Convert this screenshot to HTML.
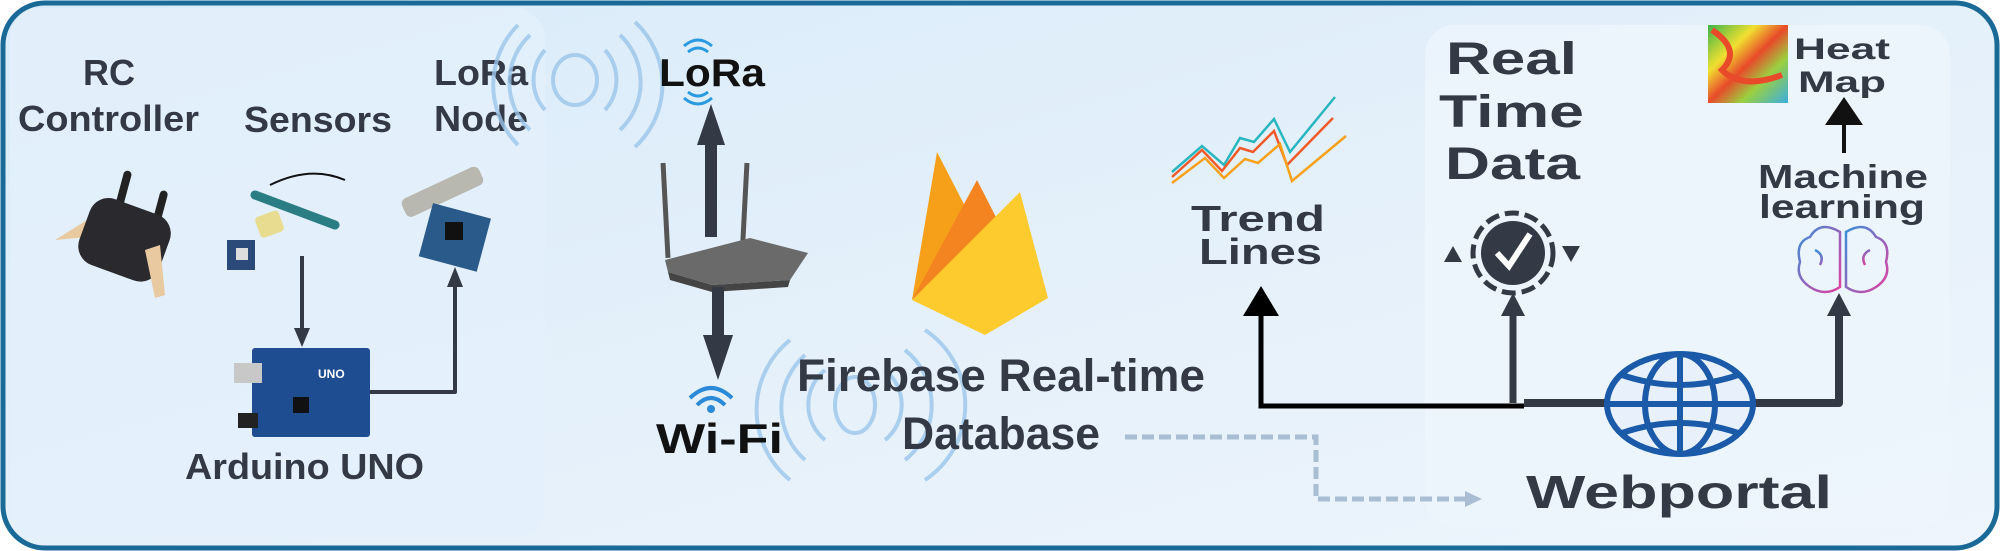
<!DOCTYPE html>
<html><head><meta charset="utf-8"><style>
html,body{margin:0;padding:0;width:2000px;height:551px;overflow:hidden;background:#fff}
svg{display:block}
text{font-family:"Liberation Sans","DejaVu Sans",sans-serif;fill:#333945;font-weight:bold}
</style></head><body>
<svg width="2000" height="551" viewBox="0 0 2000 551" xmlns="http://www.w3.org/2000/svg">
<defs>
<linearGradient id="bg" x1="0" y1="0" x2="1" y2="1">
<stop offset="0" stop-color="#d9ebf9"/><stop offset="0.5" stop-color="#e4f0fa"/><stop offset="1" stop-color="#eef5fc"/></linearGradient>
<linearGradient id="heat" x1="0" y1="0" x2="1" y2="1">
<stop offset="0" stop-color="#3cb44b"/><stop offset="0.3" stop-color="#f0e030"/><stop offset="0.5" stop-color="#e84a2a"/><stop offset="0.7" stop-color="#9bd040"/><stop offset="1" stop-color="#3aaee0"/></linearGradient>
<linearGradient id="brain" x1="0" y1="0" x2="1" y2="1"><stop offset="0" stop-color="#3a8fd8"/><stop offset="1" stop-color="#e040a0"/></linearGradient>
</defs>
<rect x="3" y="3" width="1994" height="545" rx="42" fill="url(#bg)" stroke="#1a6a98" stroke-width="5"/>
<rect x="10" y="8" width="535" height="530" rx="30" fill="#e3f0fb" opacity="0.8"/>
<rect x="1425" y="25" width="525" height="502" rx="30" fill="#eef5fc" opacity="0.8"/>

<!-- left labels -->
<g font-size="36" lengthAdjust="spacingAndGlyphs">
<text x="83" y="85" textLength="52" lengthAdjust="spacingAndGlyphs">RC</text>
<text x="18" y="131" textLength="181" lengthAdjust="spacingAndGlyphs">Controller</text>
<text x="244" y="132" textLength="148" lengthAdjust="spacingAndGlyphs">Sensors</text>
<text x="434" y="85" textLength="94" lengthAdjust="spacingAndGlyphs">LoRa</text>
<text x="434" y="131" textLength="94" lengthAdjust="spacingAndGlyphs">Node</text>
<text x="185" y="479" textLength="239" lengthAdjust="spacingAndGlyphs">Arduino UNO</text>
</g>

<!-- RC controller -->
<g>
<path d="M55 240 L95 215 L110 235 Z" fill="#e8c9a0"/>
<rect x="118" y="170" width="8" height="50" rx="4" fill="#222" transform="rotate(15 122 195)"/>
<rect x="155" y="190" width="8" height="45" rx="4" fill="#222" transform="rotate(15 159 212)"/>
<rect x="82" y="205" width="85" height="70" rx="20" fill="#2a2a2e" transform="rotate(20 125 240)"/>
<path d="M145 250 L160 245 L165 295 L155 298 Z" fill="#e8c9a0"/>
</g>
<!-- sensors -->
<g>
<path d="M255 195 L335 225" stroke="#2a7d82" stroke-width="9" stroke-linecap="round"/>
<path d="M270 185 q40 -20 75 -5" stroke="#111" stroke-width="2" fill="none"/>
<rect x="257" y="213" width="25" height="22" rx="4" fill="#e8dc90" transform="rotate(-20 270 224)"/>
<rect x="227" y="240" width="28" height="30" fill="#2b4a7a"/>
<rect x="236" y="248" width="12" height="12" fill="#ddd"/>
</g>
<!-- lora node -->
<g>
<rect x="400" y="182" width="85" height="20" rx="6" fill="#b8b8b0" transform="rotate(-25 442 192)"/>
<rect x="425" y="210" width="60" height="55" fill="#2a5a8a" transform="rotate(15 455 237)"/>
<rect x="445" y="222" width="18" height="18" fill="#111"/>
</g>
<!-- arduino -->
<g>
<rect x="252" y="348" width="118" height="89" rx="3" fill="#1e4d92"/>
<rect x="234" y="363" width="28" height="20" fill="#c8c8c8"/>
<rect x="238" y="413" width="20" height="15" fill="#222"/>
<rect x="293" y="397" width="16" height="16" fill="#111"/>
<text x="318" y="378" font-size="12" style="fill:#fff">UNO</text>
</g>
<!-- left arrows -->
<g stroke="#333945" stroke-width="4" fill="none">
<line x1="302" y1="256" x2="302" y2="330"/>
<polyline points="370,392 455,392 455,285" stroke-linejoin="round"/>
</g>
<polygon points="294,328 310,328 302,347" fill="#333945"/>
<polygon points="447,287 463,287 455,267" fill="#333945"/>

<!-- signal arcs top -->
<g fill="none" stroke="#9cc6ea" stroke-width="4" opacity="0.8">
<ellipse cx="575" cy="80" rx="22" ry="25"/>
<path d="M545 50 a45 45 0 0 0 0 60"/><path d="M605 50 a45 45 0 0 1 0 60"/>
<path d="M530 35 a65 65 0 0 0 0 95"/><path d="M620 35 a65 65 0 0 1 0 95"/>
<path d="M518 25 a85 85 0 0 0 0 120"/><path d="M635 22 a85 85 0 0 1 0 125"/>
</g>
<!-- wifi-side arcs -->
<g fill="none" stroke="#9cc6ea" stroke-width="4" opacity="0.8">
<ellipse cx="855" cy="405" rx="20" ry="28"/>
<path d="M825 370 a45 45 0 0 0 0 70"/><path d="M885 370 a45 45 0 0 1 0 70"/>
<path d="M805 355 a70 70 0 0 0 0 105"/><path d="M905 350 a70 70 0 0 1 0 110"/>
<path d="M790 340 a90 90 0 0 0 0 140"/><path d="M925 330 a90 90 0 0 1 0 150"/>
</g>

<!-- LoRa logo -->
<g fill="none" stroke="#2a9ae0" stroke-width="3">
<path d="M688 52 q10 -8 20 0"/><path d="M684 46 q14 -12 28 0"/>
<path d="M688 92 q10 8 20 0"/><path d="M684 98 q14 12 28 0"/>
</g>
<text x="659" y="86" font-size="39" textLength="106" lengthAdjust="spacingAndGlyphs" style="fill:#111">LoRa</text>

<!-- router -->
<g>
<rect x="663" y="163" width="5" height="95" fill="#555" transform="rotate(-3 665 210)"/>
<rect x="742" y="163" width="5" height="95" fill="#555" transform="rotate(3 745 210)"/>
<path d="M665 260 L750 238 L808 253 L790 280 L712 285 L668 272 Z" fill="#6a6a6a"/>
<path d="M668 272 L712 285 L790 280 L788 287 L712 292 L670 280 Z" fill="#444"/>
</g>
<rect x="705" y="140" width="12" height="97" fill="#333945"/>
<polygon points="697,145 725,145 711,104" fill="#333945"/>
<rect x="712" y="287" width="12" height="50" fill="#333945"/>
<polygon points="703,335 733,335 718,380" fill="#333945"/>

<!-- wifi logo -->
<g fill="none" stroke="#2a8ad8" stroke-width="4">
<path d="M697 405 q14 -14 28 0"/><path d="M690 398 q21 -20 42 0"/>
</g>
<circle cx="711" cy="409" r="4" fill="#2a8ad8"/>
<text x="656" y="453" font-size="42" textLength="127" lengthAdjust="spacingAndGlyphs" style="fill:#111">Wi-Fi</text>

<!-- firebase -->
<g>
<path d="M912 300 L937 152 L968 212 Z" fill="#f6a01a"/>
<path d="M912 300 L977 180 L1000 225 Z" fill="#f38420"/>
<path d="M912 300 L1020 192 L1048 298 L985 335 Z" fill="#fecb2f"/>
</g>
<g font-size="45">
<text x="797" y="391" textLength="408" lengthAdjust="spacingAndGlyphs">Firebase Real-time</text>
<text x="902" y="449" textLength="198" lengthAdjust="spacingAndGlyphs">Database</text>
</g>
<!-- dashed -->
<polyline points="1125,437 1316,437 1316,499 1470,499" fill="none" stroke="#a9bdd3" stroke-width="5" stroke-dasharray="12 5"/>
<polygon points="1465,491 1482,499 1465,507" fill="#a9bdd3"/>

<!-- trend chart -->
<g fill="none" stroke-width="2.5">
<polyline points="1172,172 1202,146 1224,165 1240,138 1254,142 1274,119 1290,152 1335,97" stroke="#2ab6c0"/>
<polyline points="1172,177 1202,150 1222,171 1240,148 1253,152 1274,131 1287,165 1333,118" stroke="#f05a28"/>
<polyline points="1172,183 1205,158 1224,178 1245,159 1258,163 1280,144 1292,181 1346,136" stroke="#f7a11a"/>
</g>
<g font-size="36">
<text x="1191" y="231" textLength="134" lengthAdjust="spacingAndGlyphs">Trend</text>
<text x="1199" y="264" textLength="123" lengthAdjust="spacingAndGlyphs">Lines</text>
</g>

<!-- real time data -->
<g font-size="45">
<text x="1446" y="74" textLength="131" lengthAdjust="spacingAndGlyphs">Real</text>
<text x="1439" y="127" textLength="145" lengthAdjust="spacingAndGlyphs">Time</text>
<text x="1445" y="179" textLength="135" lengthAdjust="spacingAndGlyphs">Data</text>
</g>
<g>
<circle cx="1513" cy="253" r="32" fill="#333945"/>
<circle cx="1513" cy="253" r="40" fill="none" stroke="#333945" stroke-width="5" stroke-dasharray="14 6"/>
<polyline points="1497,253 1509,266 1530,234" fill="none" stroke="#fff" stroke-width="6"/>
<polygon points="1444,262 1462,262 1453,246" fill="#333945"/>
<polygon points="1562,246 1580,246 1571,262" fill="#333945"/>
</g>

<!-- heat map -->
<rect x="1708" y="25" width="80" height="78" fill="url(#heat)"/>
<path d="M1712 30 q30 20 10 40 q20 20 60 5" stroke="#e84a2a" stroke-width="6" fill="none"/>
<g font-size="30">
<text x="1794" y="59" textLength="96" lengthAdjust="spacingAndGlyphs">Heat</text>
<text x="1798" y="92" textLength="88" lengthAdjust="spacingAndGlyphs">Map</text>
</g>
<rect x="1842" y="113" width="4" height="40" fill="#111"/>
<polygon points="1825,125 1863,125 1844,97" fill="#111"/>
<g font-size="33">
<text x="1758" y="188" textLength="170" lengthAdjust="spacingAndGlyphs">Machine</text>
<text x="1759" y="218" textLength="166" lengthAdjust="spacingAndGlyphs">learning</text>
</g>
<!-- brain -->
<g fill="none" stroke="url(#brain)" stroke-width="2.5">
<path d="M1840 232 q-20 -12 -30 5 q-15 5 -10 25 q-5 15 10 25 q15 10 30 0 Z"/>
<path d="M1846 232 q20 -12 30 5 q15 5 10 25 q5 15 -10 25 q-15 10 -30 0 Z"/>
<path d="M1815 250 q10 5 5 15 M1870 250 q-10 5 -5 15"/>
</g>

<!-- bottom connectors -->
<polyline points="1261,314 1261,406 1524,406" fill="none" stroke="#000" stroke-width="5"/>
<polygon points="1243,316 1279,316 1261,286" fill="#000"/>
<line x1="1513" y1="312" x2="1513" y2="403" stroke="#333945" stroke-width="7"/>
<polygon points="1501,316 1525,316 1513,293" fill="#333945"/>
<polyline points="1524,403 1839,403 1839,312" fill="none" stroke="#333945" stroke-width="8" stroke-linejoin="round"/>
<polygon points="1827,316 1851,316 1839,293" fill="#333945"/>

<!-- globe -->
<g fill="none" stroke="#1a5aa8" stroke-width="6">
<ellipse cx="1680" cy="404" rx="73" ry="50" fill="#e8f1fb"/>
<ellipse cx="1680" cy="404" rx="35" ry="50"/>
<line x1="1680" y1="354" x2="1680" y2="454"/>
<line x1="1607" y1="404" x2="1753" y2="404"/>
<path d="M1622 375 q58 20 116 0"/><path d="M1622 433 q58 -20 116 0"/>
</g>
<text x="1526" y="508" font-size="46" textLength="306" lengthAdjust="spacingAndGlyphs">Webportal</text>
</svg>
</body></html>
